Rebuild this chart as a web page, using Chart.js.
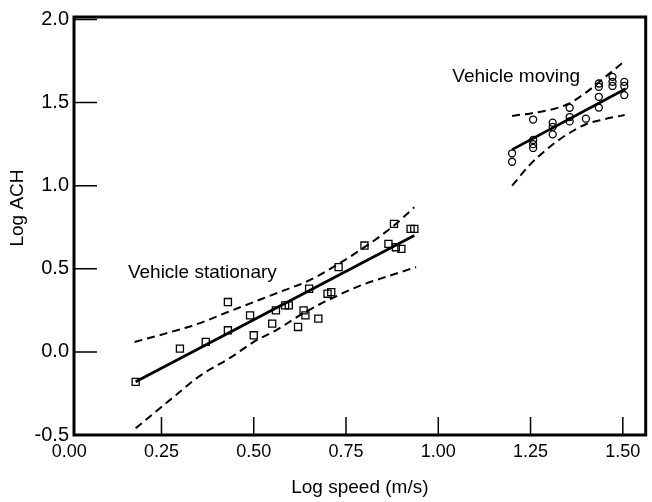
<!DOCTYPE html>
<html>
<head>
<meta charset="utf-8">
<script src="https://cdn.jsdelivr.net/npm/chart.js@4.4.1/dist/chart.umd.min.js"></script>
<style>
  html, body { margin: 0; padding: 0; background: #fff; }
  #wrap { width: 652px; height: 502px; }
</style>
</head>
<body>
<div id="wrap"><canvas id="achChart" width="652" height="502"></canvas></div>
<script>
// axis ticks
const xTicks = [0, 0.25, 0.5, 0.75, 1.0, 1.25, 1.5];
const yTicks = [-0.5, 0, 0.5, 1.0, 1.5, 2.0];

// vehicle stationary - measured points
const stationaryX = [0.18, 0.30, 0.37, 0.43, 0.43, 0.49, 0.50, 0.55, 0.56, 0.585, 0.595, 0.62, 0.635, 0.64, 0.65, 0.675, 0.70, 0.71, 0.73, 0.80, 0.865, 0.88, 0.885, 0.90, 0.925, 0.935];
const stationaryY = [-0.18, 0.02, 0.06, 0.30, 0.13, 0.22, 0.10, 0.17, 0.25, 0.28, 0.28, 0.15, 0.25, 0.22, 0.38, 0.20, 0.35, 0.36, 0.51, 0.64, 0.65, 0.77, 0.63, 0.62, 0.74, 0.74];

// vehicle moving - measured points
const movingX = [1.20, 1.20, 1.257, 1.257, 1.257, 1.257, 1.31, 1.31, 1.31, 1.356, 1.356, 1.356, 1.40, 1.435, 1.435, 1.435, 1.435, 1.472, 1.472, 1.472, 1.504, 1.504, 1.504];
const movingY = [1.195, 1.144, 1.398, 1.275, 1.25, 1.227, 1.379, 1.354, 1.309, 1.469, 1.413, 1.387, 1.403, 1.615, 1.595, 1.535, 1.47, 1.655, 1.625, 1.60, 1.625, 1.60, 1.545];

// regression lines
const stationaryFitX = [0.18, 0.935];
const stationaryFitY = [-0.18, 0.70];
const movingFitX = [1.20, 1.508];
const movingFitY = [1.217, 1.583];

// confidence bands
const stationaryUpperX = [0.177, 0.26, 0.35, 0.43, 0.50, 0.57, 0.65, 0.73, 0.80, 0.88, 0.935];
const stationaryUpperY = [0.06, 0.11, 0.17, 0.24, 0.30, 0.36, 0.43, 0.53, 0.63, 0.76, 0.87];
const stationaryLowerX = [0.18, 0.245, 0.30, 0.35, 0.44, 0.50, 0.56, 0.64, 0.70, 0.79, 0.87, 0.94];
const stationaryLowerY = [-0.46, -0.34, -0.24, -0.15, -0.03, 0.06, 0.13, 0.24, 0.31, 0.40, 0.46, 0.51];
const movingUpperX = [1.20, 1.25, 1.30, 1.35, 1.40, 1.45, 1.508];
const movingUpperY = [1.42, 1.435, 1.455, 1.49, 1.56, 1.65, 1.755];
const movingLowerX = [1.20, 1.25, 1.30, 1.35, 1.40, 1.45, 1.505];
const movingLowerY = [1.00, 1.13, 1.23, 1.31, 1.37, 1.40, 1.425];

// text notes, anchored in data units
const noteText = ['Vehicle stationary', 'Vehicle moving'];
const noteX = [0.159, 1.038];
const noteY = [0.475, 1.655];

const FONT = '"Liberation Sans", Arial, Helvetica, sans-serif';

function pairs(xs, ys) {
  return xs.map((x, i) => ({ x: x, y: ys[i] }));
}

function markers(xs, ys, style, radius) {
  return {
    data: pairs(xs, ys),
    showLine: false,
    pointStyle: style,
    pointRadius: radius,
    pointBorderWidth: 1.3,
    pointBorderColor: '#000',
    pointBackgroundColor: 'rgba(0,0,0,0)'
  };
}

function line(xs, ys, dashed) {
  return {
    data: pairs(xs, ys),
    showLine: true,
    pointRadius: 0,
    borderColor: '#000',
    borderWidth: dashed ? 2 : 2.8,
    borderDash: dashed ? [8, 5] : [],
    cubicInterpolationMode: dashed ? 'monotone' : 'default',
    fill: false
  };
}

// frame, inward ticks, notes and y title
const framePlugin = {
  id: 'frame',
  afterDraw(chart) {
    const ctx = chart.ctx;
    const { left, right, top, bottom } = chart.chartArea;
    const xs = chart.scales.x;
    const ys = chart.scales.y;
    ctx.save();
    ctx.strokeStyle = '#000';
    ctx.lineWidth = 3;
    ctx.strokeRect(left, top, right - left, bottom - top);

    ctx.lineWidth = 1.5;
    ctx.beginPath();
    xTicks.forEach(v => {
      const px = xs.getPixelForValue(v);
      if (px > left + 2) {
        ctx.moveTo(px, bottom);
        ctx.lineTo(px, bottom - 18);
      }
    });
    yTicks.forEach(v => {
      const py = ys.getPixelForValue(v);
      ctx.moveTo(left, py);
      ctx.lineTo(left + 23, py);
    });
    ctx.stroke();

    ctx.fillStyle = '#000';
    ctx.font = '19px ' + FONT;
    ctx.textBaseline = 'middle';
    ctx.textAlign = 'left';
    noteText.forEach((t, i) => {
      ctx.fillText(t, xs.getPixelForValue(noteX[i]), ys.getPixelForValue(noteY[i]));
    });

    ctx.translate(18, (top + bottom) / 2 - 18);
    ctx.rotate(-Math.PI / 2);
    ctx.textAlign = 'center';
    ctx.fillText('Log ACH', 0, 0);
    ctx.restore();
  }
};

new Chart(document.getElementById('achChart'), {
  type: 'scatter',
  data: {
    datasets: [
      markers(stationaryX, stationaryY, 'rect', 5),
      markers(movingX, movingY, 'circle', 3.5),
      line(stationaryFitX, stationaryFitY, false),
      line(movingFitX, movingFitY, false),
      line(stationaryUpperX, stationaryUpperY, true),
      line(stationaryLowerX, stationaryLowerY, true),
      line(movingUpperX, movingUpperY, true),
      line(movingLowerX, movingLowerY, true)
    ]
  },
  options: {
    responsive: false,
    animation: false,
    layout: { padding: { top: 6, right: 2, left: 0, bottom: 0 } },
    plugins: {
      legend: { display: false },
      tooltip: { enabled: false }
    },
    scales: {
      x: {
        type: 'linear',
        min: 0.013,
        max: 1.562,
        grid: { display: false, drawTicks: false },
        border: { display: false },
        afterBuildTicks: s => { s.ticks = xTicks.map(v => ({ value: v })); },
        afterFit: s => { s.height = 67; },
        ticks: {
          autoSkip: false,
          maxRotation: 0,
          padding: 6,
          color: '#000',
          font: { family: FONT, size: 18 },
          callback: v => Number(v).toFixed(2)
        },
        title: {
          display: true,
          text: 'Log speed (m/s)',
          color: '#000',
          font: { family: FONT, size: 19 },
          padding: { top: 0, bottom: 3 }
        }
      },
      y: {
        type: 'linear',
        min: -0.5,
        max: 2.015,
        grid: { display: false, drawTicks: false },
        border: { display: false },
        afterBuildTicks: s => { s.ticks = yTicks.map(v => ({ value: v })); },
        afterFit: s => { s.width = 74; },
        ticks: {
          padding: 5,
          color: '#000',
          font: { family: FONT, size: 20 },
          callback: v => Number(v).toFixed(1)
        }
      }
    }
  },
  plugins: [framePlugin]
});
</script>
</body>
</html>
